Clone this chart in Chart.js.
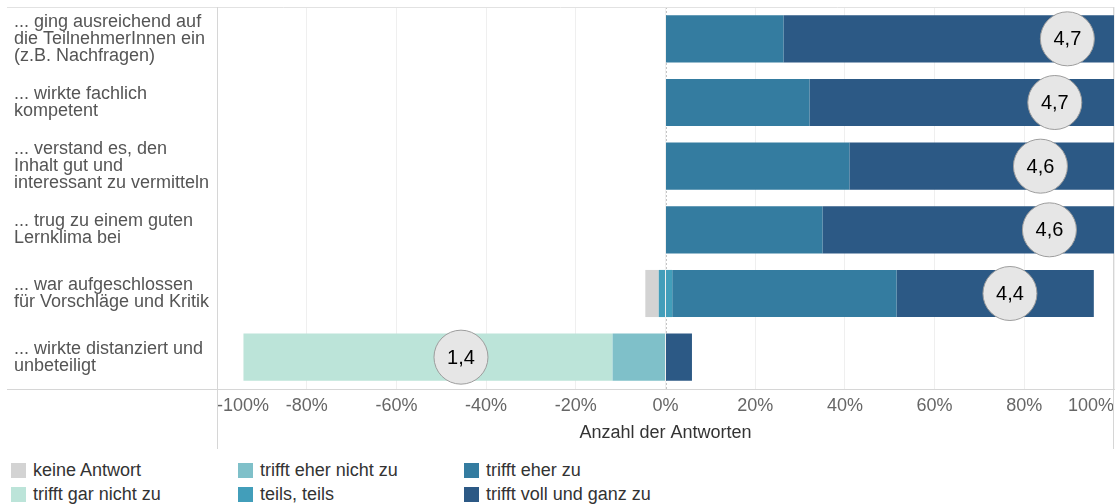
<!DOCTYPE html>
<html lang="de">
<head>
<meta charset="utf-8">
<title>Bewertung der Lehrperson</title>
<script src="https://cdn.jsdelivr.net/npm/chart.js@4.4.1/dist/chart.umd.min.js"></script>
<style>
    body { margin: 0; background: #fff; font-family: "Liberation Sans", Arial, sans-serif; }
    #wrapper { position: relative; width: 1118px; height: 452px; }
    #legende {
        display: grid;
        grid-template-columns: 227px 226px 300px;
        grid-template-rows: 24px 24px;
        grid-auto-flow: column;
        padding-left: 11px;
        margin-top: 6px;
    }
    .eintrag { display: flex; align-items: center; font-size: 18px; color: #333; }
    .farbe { width: 15px; height: 15px; margin-right: 7px; }
</style>
</head>
<body>
<div id="wrapper"><canvas id="bewertung"></canvas></div>
<div id="legende"></div>

<script>
//..........DATEN..........
var aussagen = [
    ["... ging ausreichend auf", "die TeilnehmerInnen ein", "(z.B. Nachfragen)"],
    ["... wirkte fachlich", "kompetent"],
    ["... verstand es, den", "Inhalt gut und", "interessant zu vermitteln"],
    ["... trug zu einem guten", "Lernklima bei"],
    ["... war aufgeschlossen", "für Vorschläge und Kritik"],
    ["... wirkte distanziert und", "unbeteiligt"]
];

var antwortKategorien = ["keine Antwort", "trifft gar nicht zu", "trifft eher nicht zu", "teils, teils", "trifft eher zu", "trifft voll und ganz zu"];
var farben = ["#d3d3d3", "#bce4d9", "#7fc0c9", "#429eba", "#347ca0", "#2c5985"];

// Anteile in Prozent je Aussage
var keineAntwort = [0, 0, 0, 0, 3, 0];
var garNicht     = [0, 0, 0, 0, 0, 82.3];
var eherNicht    = [0, 0, 0, 0, 0, 11.8];
var teilsTeils   = [0, 0, 0, 0, 3, 0];
var eherZu       = [26.3, 32.1, 41.0, 35.0, 50, 0];
var vollUndGanz  = [73.7, 67.9, 59.0, 65.0, 44, 5.9];

// Mittelwerte (Skala 1 bis 5), Position auf eigener Achse 0..5
var mittelwerte = [4.74, 4.67, 4.59, 4.64, 4.42, 1.36];

var xTicks = [-100, -80, -60, -40, -20, 0, 20, 40, 60, 80, 100];

//..........DATASETS..........
function balken(label, werte, farbe, negativ) {
    return {
        label: label,
        data: werte.map(function (v) { return negativ ? -v : v; }),
        backgroundColor: farbe,
        borderWidth: 0,
        stack: 'antworten',
        order: 1
    };
}

var halbTeils = teilsTeils.map(function (v) { return v / 2; });

var datasets = [
    // links von 0 (negative Seite), von innen nach außen
    balken(antwortKategorien[3], halbTeils, farben[3], true),
    balken(antwortKategorien[3], halbTeils, farben[3], false),
    balken(antwortKategorien[2], eherNicht, farben[2], true),
    balken(antwortKategorien[1], garNicht, farben[1], true),
    balken(antwortKategorien[0], keineAntwort, farben[0], true),
    // rechts von 0
    balken(antwortKategorien[4], eherZu, farben[4], false),
    balken(antwortKategorien[5], vollUndGanz, farben[5], false),
    {
        type: 'bubble',
        label: 'Mittelwert',
        data: mittelwerte.map(function (m, i) { return { x: m, y: i, r: 27 }; }),
        xAxisID: 'xMittel',
        yAxisID: 'y',
        backgroundColor: '#e6e6e6',
        borderColor: '#9d9d9d',
        borderWidth: 1,
        order: 0
    }
];

//..........PLUGINS..........
// Rahmenlinien und gestrichelte Nulllinie
var rahmen = {
    id: 'rahmen',
    beforeDatasetsDraw: function (chart) {
        var ctx = chart.ctx;
        var a = chart.chartArea;
        var x0 = chart.scales.x.getPixelForValue(0);
        ctx.save();
        ctx.lineWidth = 1;
        ctx.strokeStyle = '#c4c4c4';
        ctx.setLineDash([2, 2]);
        ctx.beginPath();
        ctx.moveTo(Math.round(x0) + 0.5, a.top);
        ctx.lineTo(Math.round(x0) + 0.5, a.bottom);
        ctx.stroke();

        ctx.setLineDash([]);
        ctx.strokeStyle = '#e2e2e2';
        ctx.beginPath();
        ctx.moveTo(7, Math.round(a.top) + 0.5);
        ctx.lineTo(a.right, Math.round(a.top) + 0.5);
        ctx.stroke();

        ctx.strokeStyle = '#d6d6d6';
        ctx.beginPath();
        ctx.moveTo(7, Math.round(a.bottom) + 0.5);
        ctx.lineTo(a.left, Math.round(a.bottom) + 0.5);
        ctx.moveTo(Math.round(a.left) + 0.5, a.top);
        ctx.lineTo(Math.round(a.left) + 0.5, chart.height - 3);
        ctx.moveTo(Math.round(a.right) - 0.5, a.top);
        ctx.lineTo(Math.round(a.right) - 0.5, chart.height - 3);
        ctx.stroke();
        ctx.restore();
    }
};

// Mittelwert als Text in den Kreisen
var mittelwertText = {
    id: 'mittelwertText',
    afterDatasetsDraw: function (chart) {
        var ctx = chart.ctx;
        var meta = chart.getDatasetMeta(datasets.length - 1);
        ctx.save();
        ctx.font = '20px "Liberation Sans", Arial, sans-serif';
        ctx.fillStyle = '#000';
        ctx.textAlign = 'center';
        ctx.textBaseline = 'middle';
        meta.data.forEach(function (punkt, i) {
            ctx.fillText(mittelwerte[i].toFixed(1).replace('.', ','), punkt.x, punkt.y + 1);
        });
        ctx.restore();
    }
};

//..........GRAFIK..........
Chart.defaults.font.family = '"Liberation Sans", Arial, sans-serif';

var ctx = document.getElementById('bewertung').getContext('2d');
var chart = new Chart(ctx, {
    type: 'bar',
    data: {
        labels: aussagen,
        datasets: datasets
    },
    options: {
        indexAxis: 'y',
        responsive: true,
        maintainAspectRatio: false,
        animation: false,
        // die Kreise dürfen über den Rand ragen
        layout: { autoPadding: false, padding: { left: 14, top: 7, right: 4, bottom: 0 } },
        datasets: {
            bar: { barPercentage: 0.74, categoryPercentage: 1 }
        },
        plugins: {
            legend: { display: false },
            tooltip: { enabled: false }
        },
        scales: {
            x: {
                stacked: true,
                min: -100,
                max: 100,
                afterBuildTicks: function (axis) {
                    axis.ticks = xTicks.map(function (v) { return { value: v }; });
                },
                afterFit: function (scale) {
                    scale.height = 63;
                    scale.paddingLeft = 0;
                    scale.paddingRight = 0;
                },
                grid: { color: '#efefef', drawTicks: false },
                border: { color: '#d6d6d6' },
                ticks: {
                    align: 'inner',
                    color: '#666',
                    padding: 6,
                    font: { size: 18 },
                    callback: function (v) { return v + '%'; }
                },
                title: {
                    display: true,
                    text: 'Anzahl der Antworten',
                    color: '#333',
                    font: { size: 18 },
                    padding: { top: 3, bottom: 8 }
                }
            },
            xMittel: {
                type: 'linear',
                axis: 'x',
                min: 0,
                max: 5,
                display: false
            },
            y: {
                type: 'category',
                grid: { display: false },
                border: { display: false },
                ticks: {
                    crossAlign: 'far',
                    color: '#555',
                    font: { size: 18, lineHeight: 0.95 }
                },
                afterFit: function (scale) {
                    scale.width = 203;
                    scale.paddingTop = 0;
                    scale.paddingBottom = 0;
                }
            }
        }
    },
    plugins: [rahmen, mittelwertText]
});

//..........LEGENDE..........
var legende = document.getElementById('legende');
antwortKategorien.forEach(function (name, i) {
    var eintrag = document.createElement('div');
    eintrag.className = 'eintrag';
    var farbe = document.createElement('span');
    farbe.className = 'farbe';
    farbe.style.background = farben[i];
    eintrag.appendChild(farbe);
    eintrag.appendChild(document.createTextNode(name));
    legende.appendChild(eintrag);
});
</script>
</body>
</html>
